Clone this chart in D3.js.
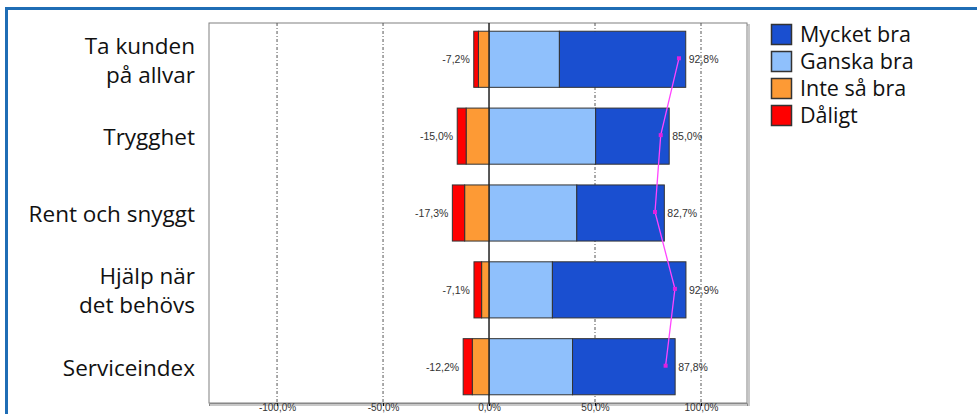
<!DOCTYPE html>
<html>
<head>
<meta charset="utf-8">
<script src="https://cdn.jsdelivr.net/npm/d3@7"></script>
<style>
  body { margin: 0; background: #fff; }
  svg { display: block; }
</style>
</head>
<body>
<div id="chart"></div>
<script>
// chart data
const categories = ["Ta kunden\npå allvar", "Trygghet", "Rent och snyggt", "Hjälp när\ndet behövs", "Serviceindex"];
const mycketBra = [59.6, 34.7, 41.3, 63.0, 48.4];
const ganskaBra = [33.2, 50.3, 41.4, 29.9, 39.4];
const inteSaBra = [5.0, 10.8, 11.5, 3.5, 7.9];
const daligt = [2.2, 4.2, 5.8, 3.6, 4.3];
const indexLine = [89.6, 81.0, 78.3, 87.7, 83.3];
const xTicks = [-100, -50, 0, 50, 100];
const legendNames = ["Mycket bra", "Ganska bra", "Inte så bra", "Dåligt"];
const legendColors = ["#1a4fd0", "#8fc0fc", "#fd9a35", "#ff0000"];

const W = 977, H = 414;
const plot = { left: 209, right: 747, top: 23, bottom: 403 };

const svg = d3.select("#chart").append("svg")
    .attr("width", W)
    .attr("height", H);

// outer blue frame (top and left only)
svg.append("path")
    .attr("d", `M6.5,${H} L6.5,8.5 L${W},8.5`)
    .attr("fill", "none")
    .attr("stroke", "#1f6db5")
    .attr("stroke-width", 3);

// scales
const x = d3.scaleLinear()
    .domain([-132.1, 121.7])
    .range([plot.left, plot.right]);

const y = d3.scaleBand()
    .domain(categories)
    .range([plot.top, plot.bottom])
    .paddingInner(0.27)
    .paddingOuter(0.107);

// plot frame with shadow
svg.append("rect")
    .attr("x", plot.left + 2).attr("y", plot.top + 2)
    .attr("width", plot.right - plot.left).attr("height", plot.bottom - plot.top)
    .attr("fill", "none").attr("stroke", "#c8c8c8").attr("stroke-width", 2);
svg.append("rect")
    .attr("x", plot.left).attr("y", plot.top)
    .attr("width", plot.right - plot.left).attr("height", plot.bottom - plot.top)
    .attr("fill", "#fff").attr("stroke", "#808080").attr("stroke-width", 1);

// gridlines
svg.append("g").selectAll("line")
    .data(xTicks)
    .enter()
    .append("line")
    .attr("x1", d => x(d)).attr("x2", d => x(d))
    .attr("y1", plot.top).attr("y2", plot.bottom)
    .attr("stroke", d => d === 0 ? "#222" : "#555")
    .attr("stroke-width", 1)
    .attr("stroke-dasharray", d => d === 0 ? null : "3,2,1,2");

// x-axis (labels sit tight under the frame, like the original)
const axis = svg.append("g")
    .attr("transform", `translate(0, ${plot.bottom})`)
    .call(d3.axisBottom(x).tickValues(xTicks).tickSize(3)
        .tickFormat(d => d3.format(".1f")(d).replace("−", "-").replace(".", ",") + "%"));
axis.select(".domain").attr("stroke", "#888");
axis.selectAll("text")
    .attr("y", 1)
    .style("font-family", "Arial, 'Liberation Sans', sans-serif")
    .style("font-size", "10px")
    .style("fill", "#333");

// stacked bars
const rows = categories.map((c, i) => ({
    cat: c,
    segs: [
        { x0: 0, x1: ganskaBra[i], color: legendColors[1] },
        { x0: ganskaBra[i], x1: ganskaBra[i] + mycketBra[i], color: legendColors[0] },
        { x0: -inteSaBra[i], x1: 0, color: legendColors[2] },
        { x0: -inteSaBra[i] - daligt[i], x1: -inteSaBra[i], color: legendColors[3] }
    ],
    pos: ganskaBra[i] + mycketBra[i],
    neg: inteSaBra[i] + daligt[i]
}));

const barG = svg.append("g");
rows.forEach(r => {
    barG.selectAll(null)
        .data(r.segs)
        .enter()
        .append("rect")
        .attr("x", d => x(d.x0))
        .attr("y", y(r.cat))
        .attr("width", d => x(d.x1) - x(d.x0))
        .attr("height", y.bandwidth())
        .attr("fill", d => d.color)
        .attr("stroke", "#333")
        .attr("stroke-width", 1);
});

// redraw zero line over bars
svg.append("line")
    .attr("x1", x(0)).attr("x2", x(0))
    .attr("y1", plot.top).attr("y2", plot.bottom)
    .attr("stroke", "#222").attr("stroke-width", 1);

// value labels
const fmt = v => v.toFixed(1).replace(".", ",") + "%";
const labelG = svg.append("g")
    .style("font-family", "Arial, 'Liberation Sans', sans-serif")
    .style("font-size", "10.5px")
    .style("fill", "#333");
labelG.selectAll(".neg")
    .data(rows)
    .enter()
    .append("text")
    .attr("x", d => x(-d.neg) - 4)
    .attr("y", d => y(d.cat) + y.bandwidth() / 2 + 4)
    .attr("text-anchor", "end")
    .text(d => "-" + fmt(d.neg));
labelG.selectAll(".pos")
    .data(rows)
    .enter()
    .append("text")
    .attr("x", d => x(d.pos) + 3)
    .attr("y", d => y(d.cat) + y.bandwidth() / 2 + 4)
    .text(d => fmt(d.pos));

// index line
const line = d3.line()
    .x((d, i) => x(d))
    .y((d, i) => y(categories[i]) + y.bandwidth() / 2 - 1);
svg.append("path")
    .datum(indexLine)
    .attr("d", line)
    .attr("fill", "none")
    .attr("stroke", "#ff44ff")
    .attr("stroke-width", 1.3);
svg.append("g").selectAll("rect")
    .data(indexLine)
    .enter()
    .append("rect")
    .attr("x", d => x(d) - 2)
    .attr("y", (d, i) => y(categories[i]) + y.bandwidth() / 2 - 3)
    .attr("width", 4).attr("height", 4)
    .attr("fill", "#e020e0");

// category labels
const catG = svg.append("g")
    .style("font-family", "'Open Sans', sans-serif")
    .style("font-size", "22.5px")
    .style("fill", "#111");
categories.forEach(c => {
    const lines = c.split("\n");
    const cy = y(c) + y.bandwidth() / 2;
    const t = catG.append("text")
        .attr("text-anchor", "end");
    lines.forEach((ln, j) => {
        t.append("tspan")
            .attr("x", 195)
            .attr("y", cy + 9 + (j - (lines.length - 1) / 2) * 29)
            .text(ln);
    });
});

// legend
const legend = svg.append("g")
    .attr("transform", "translate(771, 24)");
legendNames.forEach((name, i) => {
    const g = legend.append("g")
        .attr("transform", `translate(0, ${i * 27})`);
    g.append("rect")
        .attr("x", 0.5).attr("y", 0.5)
        .attr("width", 20).attr("height", 20)
        .attr("fill", legendColors[i])
        .attr("stroke", "#333")
        .attr("stroke-width", 1.5);
    g.append("text")
        .attr("x", 29)
        .attr("y", 18)
        .style("font-family", "'Open Sans', sans-serif")
        .style("font-size", "21.5px")
        .style("fill", "#111")
        .text(name);
});
</script>
</body>
</html>
